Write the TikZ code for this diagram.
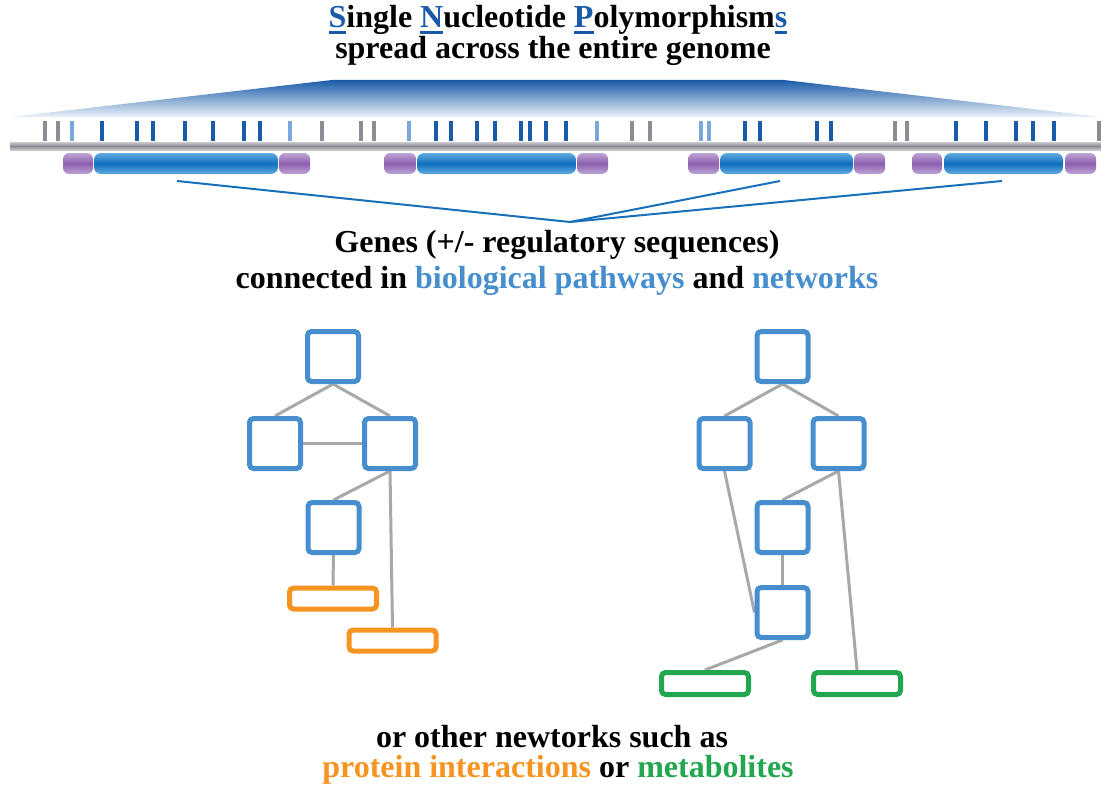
\documentclass[tikz,border=0pt]{standalone}
\usepackage{fontspec}
\setmainfont{Liberation Serif}
\usetikzlibrary{positioning,backgrounds}

\definecolor{snpblue}{RGB}{26,90,168}
\definecolor{ticklight}{RGB}{122,168,220}
\definecolor{tickgray}{RGB}{140,140,148}
\definecolor{pathblue}{RGB}{70,142,206}
\definecolor{protorange}{RGB}{246,148,34}
\definecolor{metagreen}{RGB}{34,166,80}
\definecolor{linkgray}{RGB}{168,168,168}
\definecolor{hubblue}{RGB}{24,112,186}

\newcommand{\snpletter}[1]{{\color{snpblue}\setbox0\hbox{#1}\rlap{\rule[-6.5bp]{\wd0}{3bp}}\box0}}

\tikzset{
  snpdark/.style={draw=snpblue,line width=4bp},
  snplight/.style={draw=ticklight,line width=4bp},
  snpgray/.style={draw=tickgray,line width=4bp},
  exon/.style={rounded corners=6bp,top color={rgb,255:red,190;green,165;blue,214},bottom color={rgb,255:red,190;green,165;blue,214},middle color={rgb,255:red,140;green,95;blue,176}},
  coding/.style={rounded corners=7bp,top color={rgb,255:red,100;green,172;blue,226},bottom color={rgb,255:red,100;green,172;blue,226},middle color={rgb,255:red,14;green,110;blue,190}},
  pathbox/.style={draw=pathblue,line width=5bp,rounded corners=4bp,minimum width=51bp,minimum height=50bp,inner sep=0pt,fill=white},
  protbox/.style={draw=protorange,line width=5bp,rounded corners=4bp,minimum width=87bp,minimum height=21bp,inner sep=0pt,fill=white},
  metabox/.style={draw=metagreen,line width=5bp,rounded corners=4bp,minimum width=87bp,minimum height=22bp,inner sep=0pt,fill=white},
  link/.style={draw=linkgray,line width=3bp},
  hubline/.style={draw=hubblue,line width=2bp},
  caption/.style={anchor=base,inner sep=0pt,font=\fontsize{32bp}{38bp}\selectfont\bfseries}
}

\begin{document}
\begin{tikzpicture}[x=1bp,y=-1bp]
  \useasboundingbox (0,0) rectangle (1101,793);
  % titles
  \node[caption] (snptitle) at (558,28) {\snpletter{S}ingle \snpletter{N}ucleotide \snpletter{P}olymorphism\snpletter{s}};
  \node[caption] (snpspread) at (553,59) {spread across the entire genome};
  % zoom from the genome
  \shade[top color=snpblue,bottom color={rgb,255:red,236;green,243;blue,250}] (332,80) -- (784,80) -- (1101,117) -- (10,117) -- cycle;
  % chromosome
  \shade[top color=tickgray!45,bottom color=tickgray!45,middle color=tickgray] (10,142) rectangle (1101,150);
  % SNPs
  \draw[snpgray] (45,121) -- (45,141);
  \draw[snpgray] (58,121) -- (58,141);
  \draw[snplight] (72,121) -- (72,141);
  \draw[snpdark] (102,121) -- (102,141);
  \draw[snpdark] (137,121) -- (137,141);
  \draw[snpdark] (153,121) -- (153,141);
  \draw[snpdark] (185,121) -- (185,141);
  \draw[snpdark] (213,121) -- (213,141);
  \draw[snpdark] (244,121) -- (244,141);
  \draw[snpdark] (260,121) -- (260,141);
  \draw[snplight] (290,121) -- (290,141);
  \draw[snpgray] (322,121) -- (322,141);
  \draw[snpgray] (361,121) -- (361,141);
  \draw[snpgray] (374,121) -- (374,141);
  \draw[snplight] (409,121) -- (409,141);
  \draw[snpdark] (436,121) -- (436,141);
  \draw[snpdark] (451,121) -- (451,141);
  \draw[snpdark] (477,121) -- (477,141);
  \draw[snpdark] (495,121) -- (495,141);
  \draw[snpdark] (521,121) -- (521,141);
  \draw[snpdark] (530,121) -- (530,141);
  \draw[snpdark] (546,121) -- (546,141);
  \draw[snpdark] (566,121) -- (566,141);
  \draw[snplight] (597,121) -- (597,141);
  \draw[snpgray] (632,121) -- (632,141);
  \draw[snpgray] (650,121) -- (650,141);
  \draw[snplight] (701,121) -- (701,141);
  \draw[snplight] (709,121) -- (709,141);
  \draw[snpdark] (745,121) -- (745,141);
  \draw[snpdark] (760,121) -- (760,141);
  \draw[snpdark] (817,121) -- (817,141);
  \draw[snpdark] (831,121) -- (831,141);
  \draw[snpgray] (895,121) -- (895,141);
  \draw[snpgray] (907,121) -- (907,141);
  \draw[snpdark] (956,121) -- (956,141);
  \draw[snpdark] (986,121) -- (986,141);
  \draw[snpdark] (1016,121) -- (1016,141);
  \draw[snpdark] (1033,121) -- (1033,141);
  \draw[snpdark] (1054,121) -- (1054,141);
  \draw[snpgray] (1099,121) -- (1099,141);
  % genes
  \shade[exon] (63,153) rectangle (93,174);
  \shade[coding] (94,153) rectangle (278,174);
  \shade[exon] (279,153) rectangle (310,174);
  \shade[exon] (384,153) rectangle (416,174);
  \shade[coding] (417,153) rectangle (576,174);
  \shade[exon] (577,153) rectangle (608,174);
  \shade[exon] (688,153) rectangle (719,174);
  \shade[coding] (720,153) rectangle (853,174);
  \shade[exon] (854,153) rectangle (885,174);
  \shade[exon] (912,153) rectangle (942,174);
  \shade[coding] (944,153) rectangle (1063,174);
  \shade[exon] (1065,153) rectangle (1096,174);
  \coordinate (gene1) at (177,181);
  \coordinate (gene3) at (780,181);
  \coordinate (gene4) at (1002,181);
  \coordinate (hub) at (570,222);
  \draw[hubline] (gene1) -- (hub);
  \draw[hubline] (gene3) -- (hub);
  \draw[hubline] (gene4) -- (hub);
  \node[caption] (genes) at (557,252) {Genes (+/- regulatory sequences)};
  \node[caption] (connected) at (557,288) {connected in \textcolor{pathblue}{biological pathways} and \textcolor{pathblue}{networks}};
  % pathway with protein interactions
  \node[pathbox] (A1) at (333,356.5) {};
  \node[pathbox] (A2) at (275,443.5) {};
  \node[pathbox] (A3) at (390,443.5) {};
  \node[pathbox] (A4) at (333.5,527.5) {};
  \node[protbox] (P1) at (333,598.5) {};
  \node[protbox] (P2) at (392.5,640.5) {};
  % pathway with metabolites
  \node[pathbox] (B1) at (782.5,356.5) {};
  \node[pathbox] (B2) at (724.5,443.5) {};
  \node[pathbox] (B3) at (838.5,443.5) {};
  \node[pathbox] (B4) at (782.5,527.5) {};
  \node[pathbox] (B5) at (782.5,612.5) {};
  \node[metabox] (M1) at (705,683.5) {};
  \node[metabox] (M2) at (857,683.5) {};
  \begin{scope}[on background layer]
    \draw[link] (A1.south) -- (A2.north);
    \draw[link] (A1.south) -- (A3.north);
    \draw[link] (A2.east) -- (A3.west);
    \draw[link] (A3.south) -- (A4.north);
    \draw[link] (A3.south) -- (P2.north);
    \draw[link] (A4.south) -- (P1.north);
    \draw[link] (B1.south) -- (B2.north);
    \draw[link] (B1.south) -- (B3.north);
    \draw[link] (B3.south) -- (B4.north);
    \draw[link] (B2.south) -- (B5.west);
    \draw[link] (B4.south) -- (B5.north);
    \draw[link] (B3.south) -- (M2.north);
    \draw[link] (B5.south) -- (M1.north);
  \end{scope}
  \node[caption] (other) at (552,747) {or other newtorks such as};
  \node[caption] (kinds) at (558,777) {\textcolor{protorange}{protein interactions} or \textcolor{metagreen}{metabolites}};
\end{tikzpicture}
\end{document}
